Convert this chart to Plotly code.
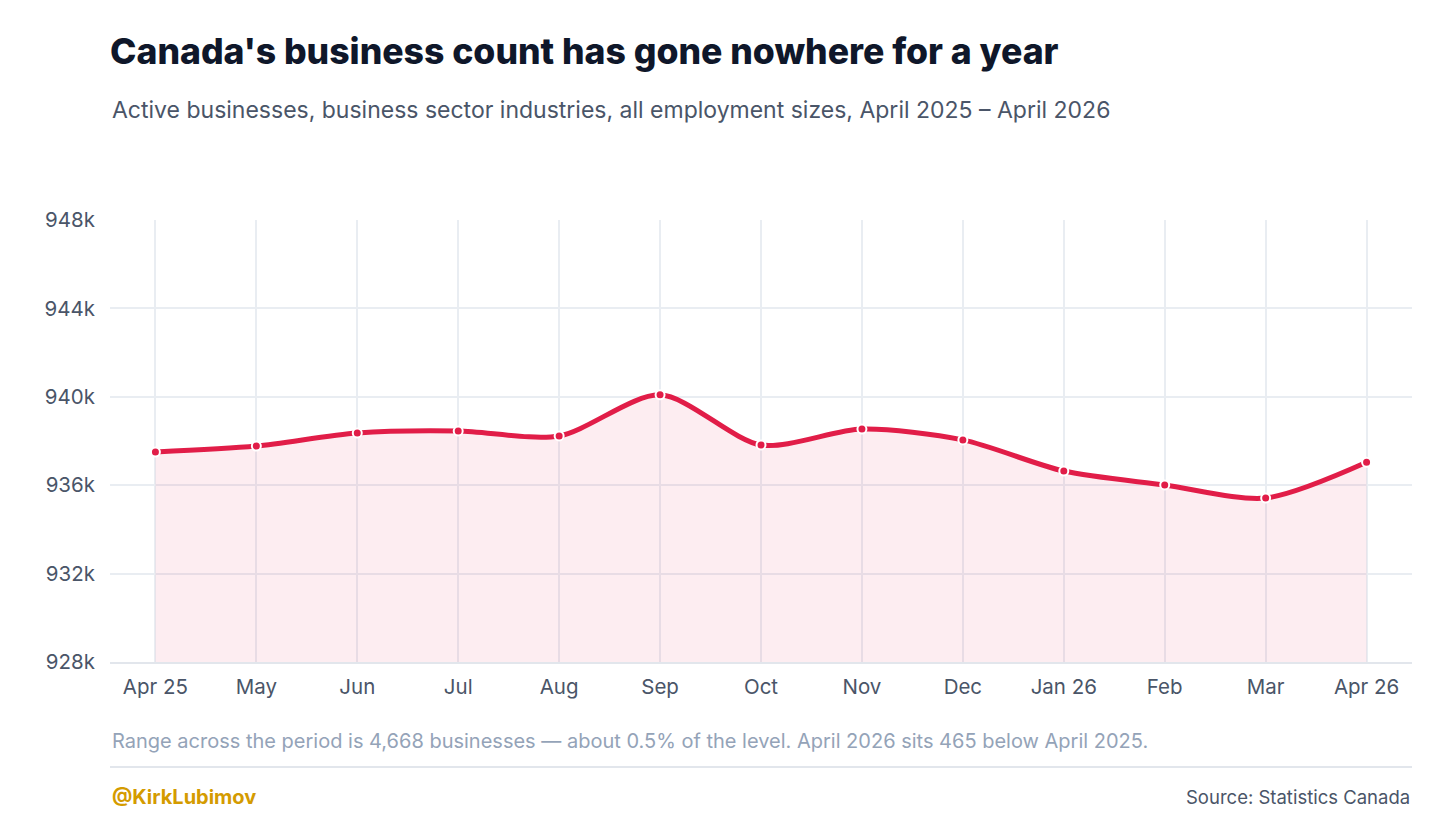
import plotly.graph_objects as go

months = ["Apr 25", "May", "Jun", "Jul", "Aug", "Sep", "Oct",
          "Nov", "Dec", "Jan 26", "Feb", "Mar", "Apr 26"]
active_businesses = [937500, 937770, 938360, 938450, 938230, 940088, 937820,
                     938540, 938050, 936640, 936010, 935420, 937035]
y_ticks = [928000, 932000, 936000, 940000, 944000, 948000]
y_tick_text = ["928k", "932k", "936k", "940k", "944k", "948k"]

RED = "#e11d48"
GRID = "#e9edf2"
FONT = "Inter, Noto Sans, sans-serif"

# page body adds an 8px offset, so positions are the reference's minus 8
OFF = 8
W, H = 1456, 828
L, R, T, B = 110 - OFF, 44 + OFF, 220 - OFF, 166 + OFF
PH = H - T - B


def paper_y(ref_y):
    return ((H - B) - (ref_y - OFF)) / PH


fig = go.Figure()
fig.add_trace(go.Scatter(
    x=list(range(len(months))), y=active_businesses,
    mode="lines+markers",
    line=dict(color=RED, width=5, shape="spline", smoothing=0.8),
    marker=dict(size=9, color=RED, line=dict(color="white", width=2)),
    fill="tozeroy", fillcolor="rgba(225,29,72,0.08)",
    showlegend=False,
    hovertemplate="%{text}: %{y:,}<extra></extra>", text=months,
))

fig.update_layout(
    width=W, height=H,
    paper_bgcolor="white", plot_bgcolor="white",
    margin=dict(l=L, r=R, t=T, b=B),
    font=dict(family=FONT, color="#4a5568", size=20),
    title=dict(
        text="Canada's business count has gone nowhere for a year",
        x=L / W, xanchor="left", y=1 - (52 - OFF) / H, yanchor="middle",
        font=dict(size=35.6, color="#0f172a", family=FONT, weight=800),
    ),
)
fig.update_xaxes(
    range=[-0.45, len(months) - 0.55],
    tickmode="array", tickvals=list(range(len(months))), ticktext=months,
    showgrid=True, gridcolor=GRID, gridwidth=1.5,
    showline=True, linecolor="#e2e6ec", linewidth=2,
    ticks="", ticklabelstandoff=5, zeroline=False,
    tickfont=dict(size=20.5, color="#4a5568"),
)
fig.update_yaxes(
    range=[928000, 948000],
    tickmode="array", tickvals=y_ticks, ticktext=y_tick_text,
    showgrid=True, gridcolor=GRID, gridwidth=1.5,
    zeroline=False, ticks="", ticklabelstandoff=14,
    tickfont=dict(size=20.5, color="#4a5568"),
)

fig.add_annotation(
    text="Active businesses, business sector industries, all employment sizes, April 2025 – April 2026",
    xref="paper", yref="paper", x=0, y=paper_y(110),
    xanchor="left", yanchor="middle", showarrow=False,
    font=dict(size=23, color="#4a5568", family=FONT),
)
fig.add_annotation(
    text="Range across the period is 4,668 businesses — about 0.5% of the level. April 2026 sits 465 below April 2025.",
    xref="paper", yref="paper", x=0, y=paper_y(741),
    xanchor="left", yanchor="middle", showarrow=False,
    font=dict(size=20, color="#94a3b8", family=FONT),
)
fig.add_shape(
    type="line", xref="paper", yref="paper",
    x0=0, x1=1, y0=paper_y(767), y1=paper_y(767),
    line=dict(color="#e2e6ec", width=2),
)
fig.add_annotation(
    text="@KirkLubimov",
    xref="paper", yref="paper", x=0, y=paper_y(797),
    xanchor="left", yanchor="middle", showarrow=False,
    font=dict(size=20, color="#d49b00", family=FONT, weight=700),
)
fig.add_annotation(
    text="Source: Statistics Canada",
    xref="paper", yref="paper", x=1, y=paper_y(797),
    xanchor="right", yanchor="middle", showarrow=False,
    font=dict(size=18.5, color="#4a5568", family=FONT),
)

fig.write_html("out.html")
